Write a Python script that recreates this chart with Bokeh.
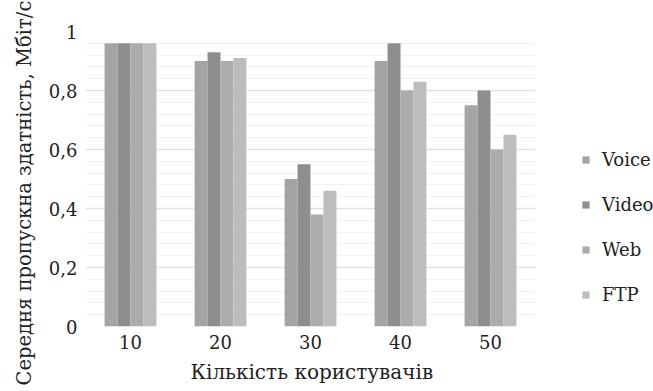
from bokeh.plotting import figure
from bokeh.models import (ColumnDataSource, Range1d, FixedTicker, Legend, LegendItem,
                          BoxAnnotation, Title)
from bokeh.embed import file_html
from bokeh.resources import INLINE

users = ["10", "20", "30", "40", "50"]
voice = [0.96, 0.90, 0.50, 0.90, 0.75]
video = [0.96, 0.93, 0.55, 0.96, 0.80]
web = [0.96, 0.90, 0.38, 0.80, 0.60]
ftp = [0.96, 0.91, 0.46, 0.83, 0.65]
series = ["Voice", "Video", "Web", "FTP"]
colors = ["#a4a4a6", "#8e8e90", "#acacae", "#bdbdbf"]
y_ticks = [0, 0.2, 0.4, 0.6, 0.8, 1.0]
y_labels = ["0", "0,2", "0,4", "0,6", "0,8", "1"]
x_title = "Кількість користувачів"
y_title = "Середня пропускна здатність, Мбіт/с"

FONT = "DejaVu Serif"

pos = list(range(1, len(users) + 1))
data = dict(pos=pos, Voice=voice, Video=video, Web=web, FTP=ftp)

# plot area of the groups spans 0.5..5.5; the frame extends further right to hold the legend
x_end = 0.5 + len(users) * 572 / 450
p = figure(frame_width=572, frame_height=295, x_range=Range1d(0.5, x_end), y_range=Range1d(0, 1.0),
           output_backend="svg", toolbar_location=None,
           min_border_left=81, min_border_right=0, min_border_top=31, min_border_bottom=65)
p.outline_line_color = None

bw = 0.144
offsets = [-1.5 * bw, -0.5 * bw, 0.5 * bw, 1.5 * bw]
renderers = []
for s, c, o in zip(series, colors, offsets):
    xs = [x + o for x in pos]
    r = p.vbar(x=xs, top=data[s], width=bw, fill_color=c, line_color=None)
    renderers.append(r)

minor = [round(i * 0.04, 2) for i in range(26) if i % 5 != 0]
p.yaxis.ticker = FixedTicker(ticks=y_ticks, minor_ticks=minor)
p.yaxis.major_label_overrides = {t: l for t, l in zip(y_ticks, y_labels)}
p.xaxis.ticker = FixedTicker(ticks=pos)
p.xaxis.major_label_overrides = {x: u for x, u in zip(pos, users)}
p.ygrid.grid_line_color = "#e2e2e2"
p.ygrid.grid_line_width = 1.5
p.ygrid.minor_grid_line_color = "#f1f1f1"
p.ygrid.minor_grid_line_width = 1
p.xgrid.grid_line_color = None

# blank out gridlines in the legend area
p.add_layout(BoxAnnotation(left=len(users) + 0.5, fill_color="white", fill_alpha=1.0,
                           line_color=None))

for ax in (p.xaxis, p.yaxis):
    ax.axis_line_color = None
    ax.major_tick_line_color = None
    ax.minor_tick_line_color = None
    ax.major_label_text_font = FONT
    ax.major_label_text_font_size = "18px"
    ax.major_label_text_color = "#222222"

p.yaxis.major_label_standoff = 2
p.xaxis.major_label_standoff = 2

p.add_layout(Title(text=x_title, align="left", offset=105, standoff=12,
                   text_font=FONT, text_font_size="20px", text_font_style="normal",
                   text_color="#222222"), "below")
p.add_layout(Title(text=y_title, align="left", offset=-59, standoff=20,
                   text_font=FONT, text_font_size="19.5px", text_font_style="normal",
                   text_color="#222222"), "left")

legend = Legend(items=[LegendItem(label=s, renderers=[r]) for s, r in zip(series, renderers)],
                location=(496, 21), orientation="vertical",
                glyph_width=9, glyph_height=9, label_height=20, spacing=24,
                label_text_font=FONT, label_text_font_size="18px", label_text_color="#222222",
                label_standoff=12, padding=0, margin=0,
                border_line_color=None, background_fill_alpha=0)
p.add_layout(legend, "center")

open("out.html", "w").write(file_html(p, INLINE))
